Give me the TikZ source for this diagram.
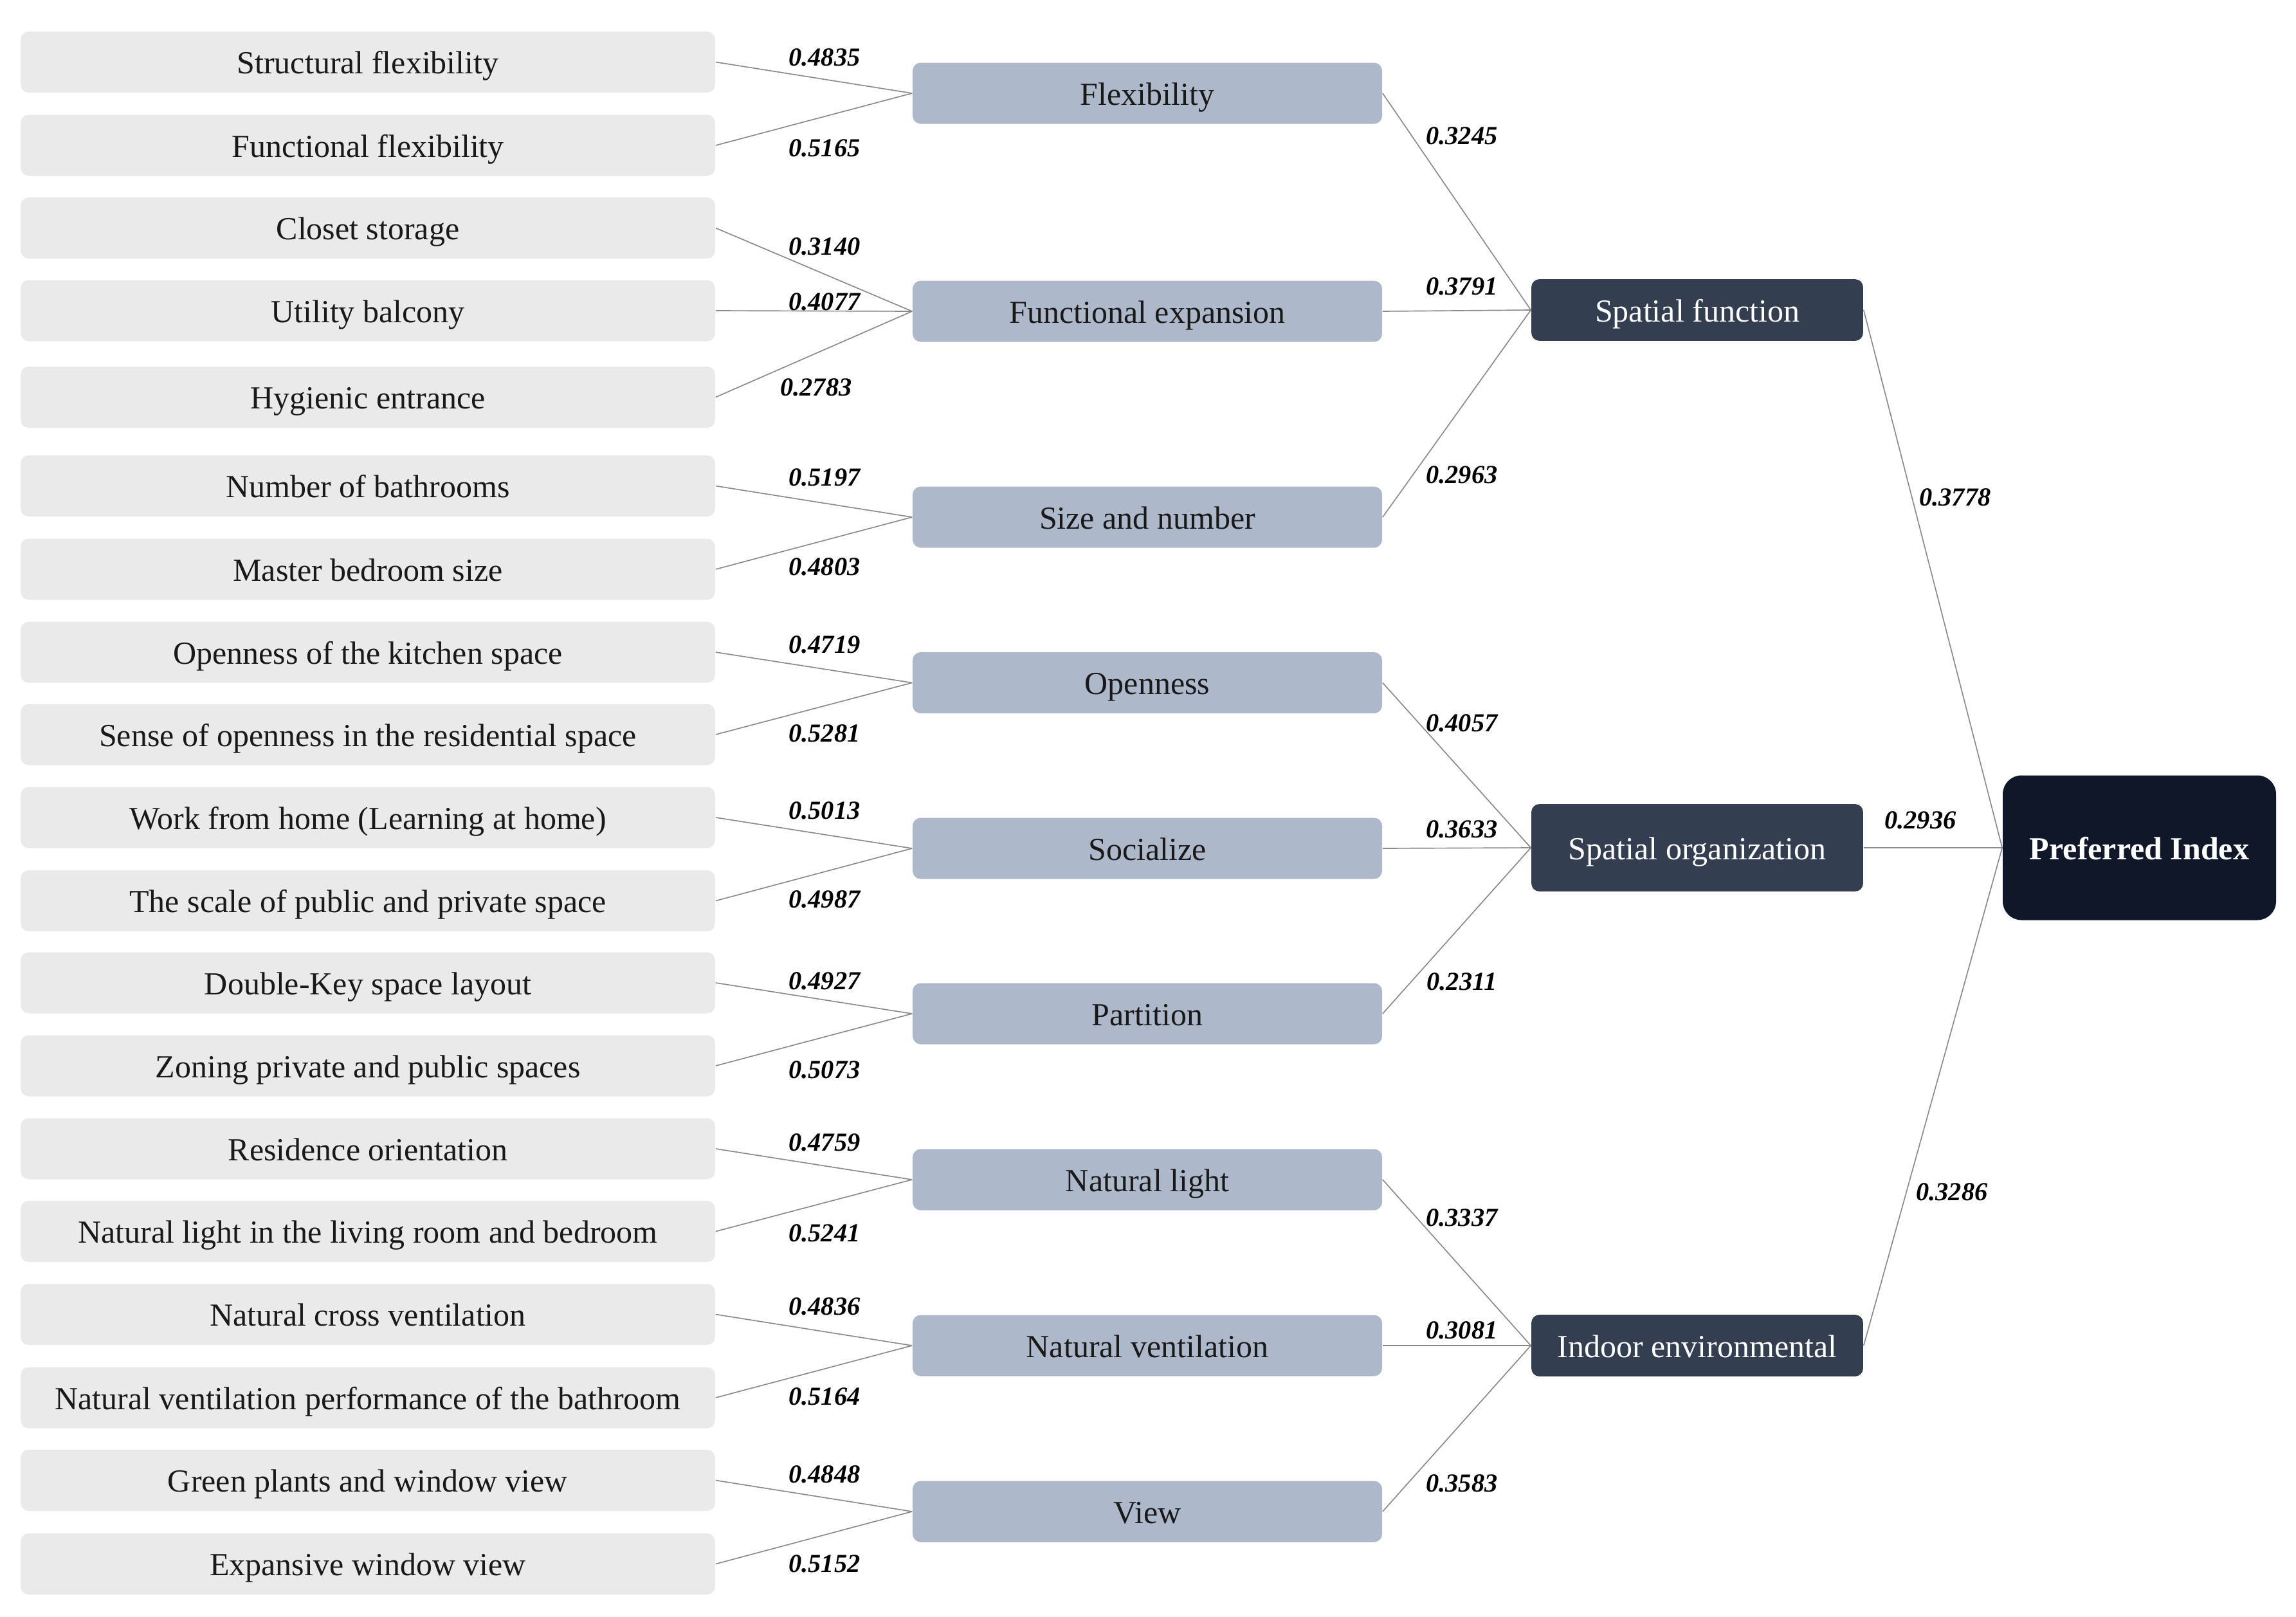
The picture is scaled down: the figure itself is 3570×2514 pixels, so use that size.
\documentclass[tikz,border=0pt]{standalone}
\usepackage{fontspec}
\setmainfont{Liberation Serif}
\definecolor{leafgray}{HTML}{EAEAEA}
\definecolor{factorblue}{HTML}{ADB9CA}
\definecolor{critnavy}{HTML}{333F50}
\definecolor{goalnavy}{HTML}{0F1729}
\definecolor{linegray}{HTML}{8A8A8A}
\begin{document}
\begin{tikzpicture}[x=0.24pt, y=-0.24pt,
    indicator/.style={rectangle, rounded corners=3pt, fill=leafgray, minimum width=259.2pt, minimum height=22.8pt, inner sep=0pt, text height=9.8pt, text depth=1pt, text=black!90, font=\fontsize{12}{14}\selectfont},
    factor/.style={indicator, fill=factorblue, minimum width=175.2pt},
    criterion/.style={indicator, fill=critnavy, minimum width=123.8pt, minimum height=23pt, text=white},
    goal/.style={criterion, fill=goalnavy, minimum width=102pt, minimum height=54pt, rounded corners=7pt, font=\fontsize{12}{14}\selectfont\bfseries},
    weight/.style={inner sep=0pt, font=\fontsize{9.7}{11}\selectfont\bfseries\itshape},
    link/.style={draw=linegray, line width=0.4pt}]

\useasboundingbox (0,0) rectangle (3570,2514);

% indicators
\node[indicator] (structural)  at (572,96.5)   {Structural flexibility};
\node[indicator] (functional)  at (572,226)    {Functional flexibility};
\node[indicator] (closet)      at (572,354.5)  {Closet storage};
\node[indicator] (balcony)     at (572,483)    {Utility balcony};
\node[indicator] (hygienic)    at (572,617.5)  {Hygienic entrance};
\node[indicator] (bathrooms)   at (572,755.5)  {Number of bathrooms};
\node[indicator] (bedroom)     at (572,885)    {Master bedroom size};
\node[indicator] (kitchen)     at (572,1014)   {Openness of the kitchen space};
\node[indicator] (senseopen)   at (572,1142)   {Sense of openness in the residential space};
\node[indicator] (homework)    at (572,1271)   {Work from home (Learning at home)};
\node[indicator] (scale)       at (572,1400.5) {The scale of public and private space};
\node[indicator] (doublekey)   at (572,1528)   {Double-Key space layout};
\node[indicator] (zoning)      at (572,1657)   {Zoning private and public spaces};
\node[indicator] (orientation) at (572,1786)   {Residence orientation};
\node[indicator] (livinglight) at (572,1914.5) {Natural light in the living room and bedroom};
\node[indicator] (crossvent)   at (572,2043.5) {Natural cross ventilation};
\node[indicator] (bathvent)    at (572,2173)   {Natural ventilation performance of the bathroom};
\node[indicator] (plants)      at (572,2301.5) {Green plants and window view};
\node[indicator] (windowview)  at (572,2431.5) {Expansive window view};

% factors
\node[factor] (flexibility) at (1784,145)    {Flexibility};
\node[factor] (expansion)   at (1784,484)    {Functional expansion};
\node[factor] (size)        at (1784,804)    {Size and number};
\node[factor] (openness)    at (1784,1061.5) {Openness};
\node[factor] (socialize)   at (1784,1319)   {Socialize};
\node[factor] (partition)   at (1784,1576)   {Partition};
\node[factor] (light)       at (1784,1834)   {Natural light};
\node[factor] (ventilation) at (1784,2092)   {Natural ventilation};
\node[factor] (view)        at (1784,2350)   {View};

% criteria and goal
\node[criterion] (function)     at (2639,482)  {Spatial function};
\node[criterion, minimum height=32.6pt] (organization) at (2639,1318) {Spatial organization};
\node[criterion] (environment)  at (2639,2092) {Indoor environmental};
\node[goal] (index) at (3326.5,1318) {Preferred Index};

% links
\draw[link] (structural.east) -- (flexibility.west);
\draw[link] (functional.east) -- (flexibility.west);
\draw[link] (closet.east) -- (expansion.west);
\draw[link] (balcony.east) -- (expansion.west);
\draw[link] (hygienic.east) -- (expansion.west);
\draw[link] (bathrooms.east) -- (size.west);
\draw[link] (bedroom.east) -- (size.west);
\draw[link] (kitchen.east) -- (openness.west);
\draw[link] (senseopen.east) -- (openness.west);
\draw[link] (homework.east) -- (socialize.west);
\draw[link] (scale.east) -- (socialize.west);
\draw[link] (doublekey.east) -- (partition.west);
\draw[link] (zoning.east) -- (partition.west);
\draw[link] (orientation.east) -- (light.west);
\draw[link] (livinglight.east) -- (light.west);
\draw[link] (crossvent.east) -- (ventilation.west);
\draw[link] (bathvent.east) -- (ventilation.west);
\draw[link] (plants.east) -- (view.west);
\draw[link] (windowview.east) -- (view.west);

\draw[link] (flexibility.east) -- (function.west);
\draw[link] (expansion.east) -- (function.west);
\draw[link] (size.east) -- (function.west);
\draw[link] (openness.east) -- (organization.west);
\draw[link] (socialize.east) -- (organization.west);
\draw[link] (partition.east) -- (organization.west);
\draw[link] (light.east) -- (environment.west);
\draw[link] (ventilation.east) -- (environment.west);
\draw[link] (view.east) -- (environment.west);

\draw[link] (function.east) -- (index.west);
\draw[link] (organization.east) -- (index.west);
\draw[link] (environment.east) -- (index.west);

% weights
\node[weight] (w-structural)  at (1282,89)   {0.4835};
\node[weight] (w-functional)  at (1282,230)  {0.5165};
\node[weight] (w-closet)      at (1282,383)  {0.3140};
\node[weight] (w-balcony)     at (1282,469)  {0.4077};
\node[weight] (w-hygienic)    at (1269,602)  {0.2783};
\node[weight] (w-bathrooms)   at (1282,742)  {0.5197};
\node[weight] (w-bedroom)     at (1282,881)  {0.4803};
\node[weight] (w-kitchen)     at (1282,1002) {0.4719};
\node[weight] (w-senseopen)   at (1282,1140) {0.5281};
\node[weight] (w-homework)    at (1282,1260) {0.5013};
\node[weight] (w-scale)       at (1282,1398) {0.4987};
\node[weight] (w-doublekey)   at (1282,1525) {0.4927};
\node[weight] (w-zoning)      at (1282,1663) {0.5073};
\node[weight] (w-orientation) at (1282,1776) {0.4759};
\node[weight] (w-livinglight) at (1282,1917) {0.5241};
\node[weight] (w-crossvent)   at (1282,2031) {0.4836};
\node[weight] (w-bathvent)    at (1282,2171) {0.5164};
\node[weight] (w-plants)      at (1282,2292) {0.4848};
\node[weight] (w-windowview)  at (1282,2431) {0.5152};

\node[weight] (w-flexibility) at (2273,211)  {0.3245};
\node[weight] (w-expansion)   at (2273,445)  {0.3791};
\node[weight] (w-size)        at (2273,738)  {0.2963};
\node[weight] (w-openness)    at (2273,1124) {0.4057};
\node[weight] (w-socialize)   at (2273,1289) {0.3633};
\node[weight] (w-partition)   at (2273,1526) {0.2311};
\node[weight] (w-light)       at (2273,1893) {0.3337};
\node[weight] (w-ventilation) at (2273,2068) {0.3081};
\node[weight] (w-view)        at (2273,2306) {0.3583};

\node[weight] (w-function)     at (3040,773)  {0.3778};
\node[weight] (w-organization) at (2986,1275) {0.2936};
\node[weight] (w-environment)  at (3035,1853) {0.3286};

\end{tikzpicture}
\end{document}
